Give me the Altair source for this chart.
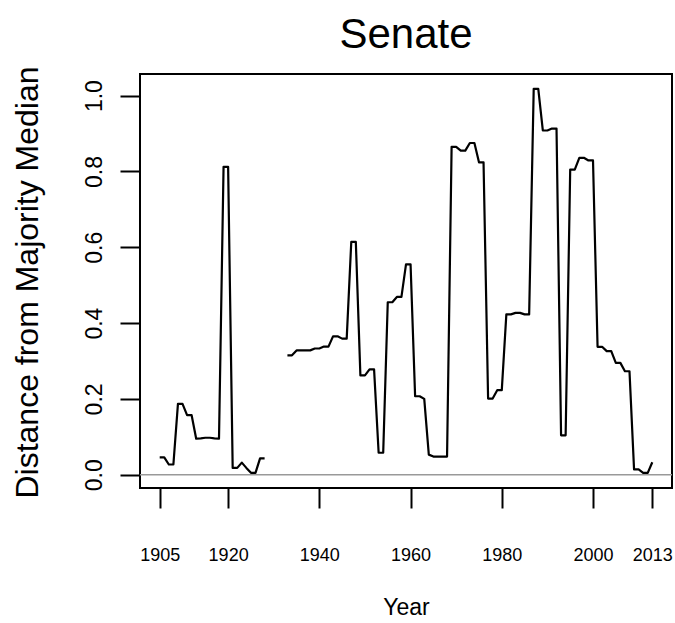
import altair as alt
import pandas as pd

# Segment 1: 1905-1928
years_a = list(range(1905, 1929))
dist_a = [0.046, 0.046, 0.027, 0.027, 0.187, 0.187, 0.157, 0.157,
          0.095, 0.096, 0.0975, 0.0975, 0.096, 0.095, 0.812, 0.812,
          0.018, 0.018, 0.032, 0.018, 0.005, 0.005, 0.043, 0.043]

# Segment 2: 1933-2013
years_b = list(range(1933, 2014))
dist_b = [0.315, 0.315, 0.328, 0.328, 0.328, 0.328, 0.333, 0.333,
          0.338, 0.338, 0.365, 0.365, 0.359, 0.359, 0.614, 0.614,
          0.262, 0.262, 0.278, 0.278, 0.058, 0.058, 0.455, 0.455,
          0.469, 0.469, 0.555, 0.555, 0.207, 0.207, 0.200, 0.053,
          0.048, 0.048, 0.048, 0.048, 0.865, 0.865, 0.855, 0.855,
          0.875, 0.875, 0.824, 0.824, 0.201, 0.201, 0.223, 0.223,
          0.423, 0.423, 0.427, 0.427, 0.423, 0.423, 1.018, 1.018,
          0.908, 0.908, 0.913, 0.913, 0.104, 0.104, 0.805, 0.805,
          0.836, 0.836, 0.829, 0.829, 0.3375, 0.3375, 0.326, 0.326,
          0.295, 0.295, 0.273, 0.273, 0.014, 0.014, 0.005, 0.005,
          0.033]

x_ticks = [1905, 1920, 1940, 1960, 1980, 2000, 2013]
y_ticks = [0.0, 0.2, 0.4, 0.6, 0.8, 1.0]

df = pd.DataFrame({
    "Year": years_a + years_b,
    "Distance": dist_a + dist_b,
    "seg": ["a"] * len(years_a) + ["b"] * len(years_b),
})
zero_df = pd.DataFrame({"y": [0.0]})

FONT = "Liberation Sans"

x_scale = alt.Scale(domain=[1900.68, 2017.32], nice=False, zero=False)
y_scale = alt.Scale(domain=[-0.035, 1.057], nice=False, zero=False)

x_axis = alt.Axis(
    values=x_ticks, format="d", tickSize=20, tickWidth=2, tickColor="black",
    labelFontSize=18, labelFont=FONT, labelColor="black", labelPadding=47,
    labelBaseline="middle", labelFlush=False, labelOverlap=False,
    domain=False, grid=False,
    title="Year", titleFont=FONT, titleFontSize=23, titleFontWeight="normal",
    titleColor="black", titleX=266, titleY=119, titleBaseline="middle",
    titleAlign="center",
)
y_axis = alt.Axis(
    values=y_ticks, format=".1f", tickSize=20, tickWidth=2, tickColor="black",
    labelFontSize=23, labelFont=FONT, labelColor="black", labelAngle=270,
    labelAlign="center", labelBaseline="bottom", labelPadding=14,
    labelOverlap=False, domain=False, grid=False,
    title="Distance from Majority Median", titleFont=FONT, titleFontSize=32,
    titleFontWeight="normal", titleColor="black", titleAngle=270,
    titleX=-103, titleY=208, titleBaseline="alphabetic", titleAlign="center",
)

zero = alt.Chart(zero_df).mark_rule(color="#999999", strokeWidth=1.5).encode(
    y=alt.Y("y:Q", scale=y_scale, axis=y_axis)
)

line = alt.Chart(df).mark_line(color="black", strokeWidth=2.2, strokeJoin="round").encode(
    x=alt.X("Year:Q", scale=x_scale, axis=x_axis),
    y=alt.Y("Distance:Q", scale=y_scale, axis=y_axis),
    detail="seg:N",
)

chart = alt.layer(zero, line).properties(
    width=532,
    height=414,
    title=alt.TitleParams("Senate", font=FONT, fontSize=42, fontWeight="normal",
                          color="black", anchor="middle", baseline="alphabetic",
                          offset=23, dy=47),
    autosize=alt.AutoSizeParams(type="none"),
    padding={"left": 140, "top": 74, "right": 3, "bottom": 135},
).configure_view(stroke="black", strokeWidth=2)

chart.save("out.html", embed_options={"renderer": "svg", "actions": False})
